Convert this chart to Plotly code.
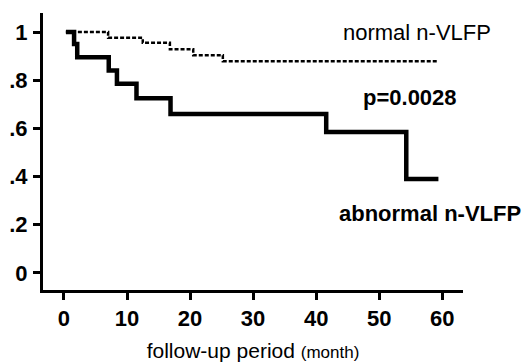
import plotly.graph_objects as go

# Kaplan-Meier step data (month, survival)
abnormal_t = [0.3, 1.6, 2.1, 7.1, 8.4, 11.5, 16.9, 41.6, 54.3, 59.4]
abnormal_s = [1.0, 0.95, 0.895, 0.84, 0.785, 0.725, 0.66, 0.585, 0.39, 0.39]

normal_t = [0.3, 7.0, 12.5, 16.8, 20.5, 25.2, 59.4]
normal_s = [1.0, 0.976, 0.955, 0.928, 0.904, 0.879, 0.879]

x_ticks = [0, 10, 20, 30, 40, 50, 60]
y_ticks = [0, 0.2, 0.4, 0.6, 0.8, 1.0]
y_ticklabels = ["0", ".2", ".4", ".6", ".8", "1"]

FONT = "Liberation Sans, Arial, Helvetica, sans-serif"

fig = go.Figure()
fig.add_trace(go.Scatter(
    x=normal_t, y=normal_s, mode="lines", line_shape="hv",
    line=dict(color="black", width=2.5, dash="4px,2px"),
    showlegend=False, hoverinfo="skip"))
fig.add_trace(go.Scatter(
    x=abnormal_t, y=abnormal_s, mode="lines", line_shape="hv",
    line=dict(color="black", width=4.5),
    showlegend=False, hoverinfo="skip"))

fig.add_annotation(x=56.0, y=0.996, text="normal n-VLFP", showarrow=False,
                   font=dict(family=FONT, size=22, color="black"))
fig.add_annotation(x=54.9, y=0.729, text="<b>p=0.0028</b>", showarrow=False,
                   font=dict(family=FONT, size=22, color="black"))
fig.add_annotation(x=58.1, y=0.246, text="<b>abnormal n-VLFP</b>", showarrow=False,
                   font=dict(family=FONT, size=22, color="black"))

fig.update_layout(
    width=530, height=362,
    margin=dict(l=43, r=67, t=13, b=72),
    paper_bgcolor="white", plot_bgcolor="white",
    font=dict(family=FONT, color="black"),
    xaxis=dict(
        range=[-3.33, 63.3], tickvals=x_ticks, automargin=False,
        showline=True, linewidth=3, linecolor="black",
        ticks="outside", ticklen=7, tickwidth=2.5, tickcolor="black",
        showgrid=False, zeroline=False, ticklabelstandoff=0,
        tickfont=dict(family=FONT, size=22, color="black", weight="bold"),
        title=dict(text='follow-up period <span style="font-size:17px">(month)</span>',
                   font=dict(family=FONT, size=21, color="black"), standoff=13),
    ),
    yaxis=dict(
        range=[-0.071, 1.079], tickvals=y_ticks, ticktext=y_ticklabels, automargin=False,
        showline=True, linewidth=3, linecolor="black",
        ticks="outside", ticklen=7, tickwidth=2.5, tickcolor="black",
        showgrid=False, zeroline=False, ticklabelstandoff=1,
        tickfont=dict(family=FONT, size=22, color="black", weight="bold"),
    ),
)

fig.write_html("out.html")
